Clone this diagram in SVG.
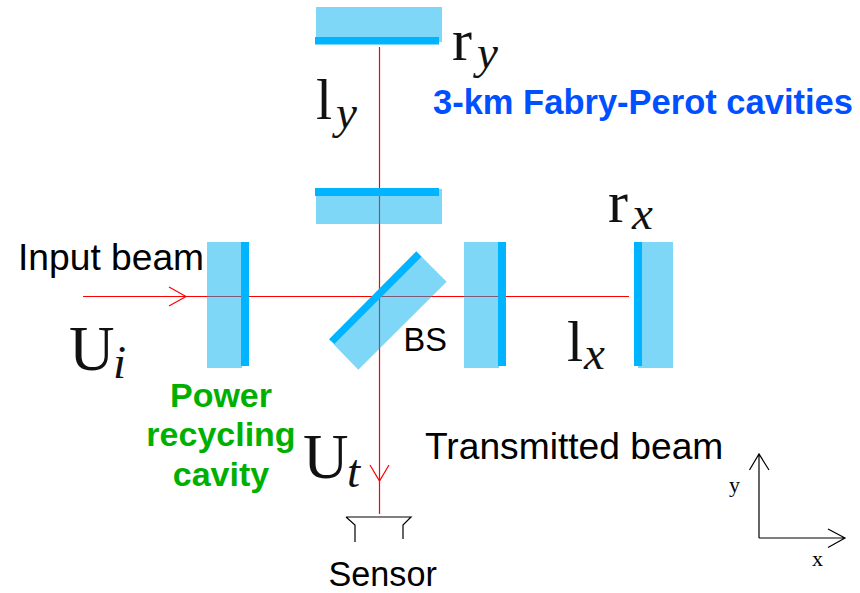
<svg xmlns="http://www.w3.org/2000/svg" width="860" height="593" viewBox="0 0 860 593">
<style>
.glass{fill:#00b0f0;fill-opacity:.5}
.coat{fill:#00b4ff}
.beam{fill:none;stroke:#ff0000;stroke-width:1.2}
.ink{fill:none;stroke:#000;stroke-width:1.2}
.sans{font-family:"Liberation Sans",Arial,sans-serif;fill:#000}
.bold{font-family:"Liberation Sans",Arial,sans-serif;font-weight:bold}
.math{font-family:"Liberation Serif","Times New Roman",serif;fill:#111}
.sub{font-style:italic;font-size:47px}
.serif{font-family:"Liberation Serif","Times New Roman",serif;font-size:22px;fill:#000}
</style>
<rect width="860" height="593" fill="#fff"/>
<g id="connectors">
<path class="beam" d="M83 296.5H629"/>
<path class="beam" d="M169 287L186 296.5L169 306"/>
<path class="beam" d="M379.5 47V514"/>
<path class="beam" d="M370 465L379.5 481L389 465"/>
</g>
<g id="mirror-ry">
<rect class="glass" x="316" y="7" width="126" height="35"/>
<rect class="coat" x="315" y="37" width="124" height="7.500"/>
<text class="math" x="452" y="60" font-size="60">r</text>
<text class="math sub" x="477" y="68">y</text>
</g>
<g id="mirror-iy">
<rect class="glass" x="316" y="189" width="126" height="35"/>
<rect class="coat" x="315" y="188" width="124" height="8"/>
</g>
<g id="mirror-prm">
<rect class="glass" x="207" y="242" width="35" height="126"/>
<rect class="coat" x="241" y="242" width="8" height="124"/>
</g>
<g id="beam-splitter">
<polygon class="glass" points="421.700,256.700 446.700,281.700 358.300,369.700 333.300,344"/>
<polygon class="coat" points="416.300,251.300 421.700,256.700 334.300,344 329,339.300"/>
<text class="sans" x="403.500" y="351" font-size="32.500">BS</text>
</g>
<g id="mirror-ix">
<rect class="glass" x="464" y="242" width="35" height="126"/>
<rect class="coat" x="498" y="242" width="8" height="124"/>
</g>
<g id="mirror-rx">
<rect class="glass" x="638" y="242" width="35" height="126"/>
<rect class="coat" x="634" y="242" width="8" height="124"/>
<text class="math" x="608" y="222" font-size="60">r</text>
<text class="math sub" x="632" y="229">x</text>
</g>
<g id="sensor">
<path class="ink" d="M346 517H411L403 525V539M346 517L355 525V542"/>
<text class="sans" x="328.500" y="585.700" font-size="34.200">Sensor</text>
</g>
<g id="axes">
<path class="ink" d="M759 538V454M749.500 470L759 454L769 470M759 538H845M828 529L845 538L828 547.500"/>
<text class="serif" x="729" y="492">y</text>
<text class="serif" x="812" y="566">x</text>
</g>
<g id="labels">
<text class="sans" x="18" y="270" font-size="37.200">Input beam</text>
<text class="math" x="69" y="370" font-size="63">U</text>
<text class="math sub" x="113" y="378">i</text>
<text class="math" x="316" y="119" font-size="58">l</text>
<text class="math sub" x="336" y="128">y</text>
<text class="math" x="567" y="361" font-size="58">l</text>
<text class="math sub" x="584" y="369">x</text>
<text class="math" x="303" y="478" font-size="63">U</text>
<text class="math sub" x="347" y="487">t</text>
<text class="bold" x="433" y="114" font-size="34.500" fill="#0050ff">3-km Fabry-Perot cavities</text>
<text class="bold" fill="#00b000" font-size="34" text-anchor="middle"><tspan x="221" y="407">Power</tspan><tspan x="221" y="446">recycling</tspan><tspan x="221" y="485.500">cavity</tspan></text>
<text class="sans" x="425" y="459" font-size="37.200">Transmitted beam</text>
</g>
</svg>
